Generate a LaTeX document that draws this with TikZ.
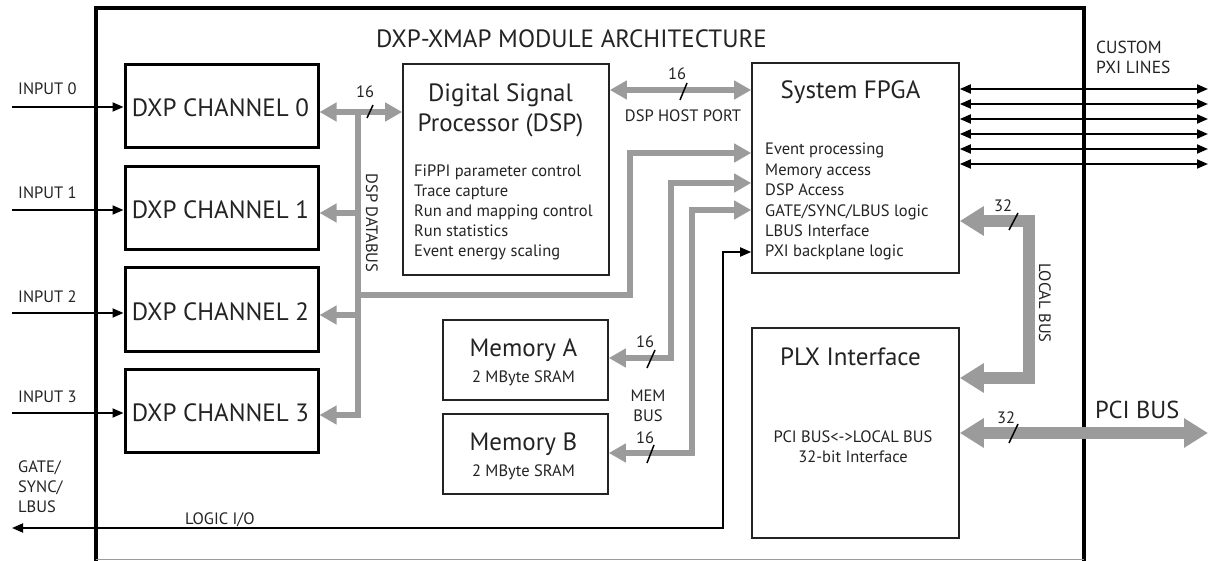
\documentclass[tikz,border=0pt]{standalone}
\usepackage{fontspec}
\setmainfont{PT Sans}
\usetikzlibrary{arrows.meta}
\definecolor{busgray}{RGB}{155,155,155}
\definecolor{ink}{RGB}{35,35,35}
\newcommand\fsz[2]{\fontsize{#1}{#2}\selectfont}
\tikzset{
  gtip/.tip={Triangle[length=17pt,width=18pt]},
  ttip/.tip={Triangle[length=24pt,width=28pt]},
  btip/.tip={Triangle[length=11pt,width=9pt]},
  chbox/.style={draw=black, line width=3pt, minimum width=193pt, minimum height=83pt, inner sep=0pt},
  unitbox/.style={draw=ink, line width=1.6pt, inner sep=0pt},
  txt/.style={inner sep=0pt, text=ink},
  big/.style={txt, font=\fsz{25}{25}},
  small/.style={txt, font=\fsz{16.5}{16.5}},
  gbus/.style={draw=busgray, line width=5.5pt, line join=miter},
  tbus/.style={draw=busgray, line width=12pt, line join=miter},
  bline/.style={draw=black, line width=1.8pt, line join=miter},
  slashmark/.style={draw=black, line width=1.5pt},
}
\begin{document}
\begin{tikzpicture}[x=1pt,y=-1pt]
\useasboundingbox (0,0) rectangle (1210,561);
% outer frame
\draw[line width=3.5pt] (96,561) -- (96,8) -- (1084,8) -- (1084,561);
\draw[busgray, line width=1.2pt] (96,559.5) -- (1084,559.5);

% boxes
\node[chbox] (ch0) at (221.5,106.5) {};
\node[chbox] (ch1) at (221.5,208) {};
\node[chbox] (ch2) at (221.5,309.5) {};
\node[chbox] (ch3) at (221.5,411) {};
\node[unitbox, minimum width=206pt, minimum height=211pt] (dsp) at (506,169.5) {};
\node[unitbox, minimum width=207pt, minimum height=210pt] (fpga) at (855.5,168) {};
\node[unitbox, minimum width=165pt, minimum height=80pt] (memA) at (525.5,360) {};
\node[unitbox, minimum width=165pt, minimum height=80pt] (memB) at (525.5,454) {};
\node[unitbox, minimum width=207pt, minimum height=210pt] (plx) at (855.5,433) {};

% coordinates
\coordinate (in0) at (12,107);
\coordinate (in1) at (12,210);
\coordinate (in2) at (12,313);
\coordinate (in3) at (12,413);
\coordinate (db0) at (358,112);
\coordinate (db1) at (358,213);
\coordinate (db2) at (358,315);
\coordinate (db3) at (358,415);
\coordinate (db4) at (358,295);
\coordinate (ev) at (630,153);
\coordinate (ma) at (671,183);
\coordinate (maL) at (671,358);
\coordinate (mb) at (692,210);
\coordinate (mbL) at (692,453);
\coordinate (hp) at (0,90);
\coordinate (lg) at (723,528);
\coordinate (lgE) at (12,528);
\coordinate (px) at (723,252);
\coordinate (lb1) at (1029,221);
\coordinate (lb2) at (1029,378);
\coordinate (pci) at (1208,433);

% inputs
\foreach \i in {0,1,2,3} {\draw[bline,-btip] (in\i) -- (in\i -| ch\i.west);}

% DSP databus
\draw[gbus,gtip-gtip] (db0 -| ch0.east) -- (db0 -| dsp.west);
\draw[gbus,-gtip] (db0) -- (db3) -- (db3 -| ch3.east);
\draw[gbus,-gtip] (db1) -- (db1 -| ch1.east);
\draw[gbus,-gtip] (db2) -- (db2 -| ch2.east);
\draw[gbus,-gtip] (db4) -| (ev) -- (ev -| fpga.west);

% memory buses
\draw[gbus,gtip-gtip] (ma -| fpga.west) -- (ma) -- (maL) -- (maL -| memA.east);
\draw[gbus,gtip-gtip] (mb -| fpga.west) -- (mb) -- (mbL) -- (mbL -| memB.east);

% host port
\draw[gbus,gtip-gtip] (hp -| dsp.east) -- (hp -| fpga.west);

% logic I/O
\draw[bline,btip-btip] (lgE) -- (lg) -- (px) -- (px -| fpga.west);

% local bus and PCI
\draw[tbus,ttip-ttip] (lb1 -| fpga.east) -- (lb1) -- (lb2) -- (lb2 -| plx.east);
\draw[tbus,ttip-ttip] (pci -| plx.east) -- (pci);

% custom PXI lines
\foreach \y [count=\i] in {89,104,119,134,149,164} {
  \coordinate (pxi\i) at (1208,\y);
  \draw[bline,btip-btip] (pxi\i -| fpga.east) -- (pxi\i);
}

% bus width slashes
\draw[slashmark] (367,118) -- (373,105);
\draw[slashmark] (680,100) -- (687,83);
\draw[slashmark] (647,368) -- (655,350);
\draw[slashmark] (647,463) -- (654,445);
\draw[slashmark] (1009,230) -- (1018,213);
\draw[slashmark] (1009,443) -- (1018,424);

% texts
\node[big, anchor=base] (title) at (571.5,48) {DXP-XMAP MODULE ARCHITECTURE};
\node[big, anchor=base] (ch0t) at (220.5,117) {DXP CHANNEL 0};
\node[big, anchor=base] (ch1t) at (220.5,218.5) {DXP CHANNEL 1};
\node[big, anchor=base] (ch2t) at (220.5,320) {DXP CHANNEL 2};
\node[big, anchor=base] (ch3t) at (220.5,421.5) {DXP CHANNEL 3};
\node[small, anchor=base west] (i0) at (18,95) {INPUT 0};
\node[small, anchor=base west] (i1) at (18,199) {INPUT 1};
\node[small, anchor=base west] (i2) at (18,302) {INPUT 2};
\node[small, anchor=base west] (i3) at (18,402) {INPUT 3};
\node[small, anchor=base west] (g1) at (18,472) {GATE/};
\node[small, anchor=base west] (g2) at (18,492) {SYNC/};
\node[small, anchor=base west] (g3) at (18,512) {LBUS};
\node[small, anchor=base west] (lio) at (185,524) {LOGIC I/O};
\node[big, anchor=base] (dspt1) at (500.5,102) {Digital Signal};
\node[big, anchor=base] (dspt2) at (500.5,132) {Processor (DSP)};
\foreach \t [count=\i] in {FiPPI parameter control,Trace capture,Run and mapping control,Run statistics,Event energy scaling} {
  \node[small, anchor=base west] (dl\i) at (414,157+20*\i) {\t};
}
\node[big, anchor=base] (fpgat) at (850.5,99) {System FPGA};
\foreach \t [count=\i] in {Event processing,Memory access,DSP Access,GATE/SYNC/LBUS logic,LBUS Interface,PXI backplane logic} {
  \node[small, anchor=base west] (fl\i) at (765,134.6+20.4*\i) {\t};
}
\node[big, anchor=base] (plxt) at (850.5,365) {PLX Interface};
\node[small, anchor=base] (plx1) at (853,442) {PCI BUS<->LOCAL BUS};
\node[small, anchor=base] (plx2) at (853,462) {32-bit Interface};
\node[big, anchor=base] (mat) at (523.5,356) {Memory A};
\node[small, anchor=base] (mas) at (523.5,382) {2 MByte SRAM};
\node[big, anchor=base] (mbt) at (523.5,450) {Memory B};
\node[small, anchor=base] (mbs) at (523.5,476) {2 MByte SRAM};
\node[small, anchor=base] (hpt) at (683,122) {DSP HOST PORT};
\node[small, anchor=base] (mem1) at (648,401) {MEM};
\node[small, anchor=base] (mem2) at (648,421) {BUS};
\node[small, anchor=base west, font=\fsz{17.5}{17.5}] (cu1) at (1096,54) {CUSTOM};
\node[small, anchor=base west, font=\fsz{17.5}{17.5}] (cu2) at (1096,74) {PXI LINES};
\node[big, anchor=base west, font=\fsz{24.5}{24.5}] (pcit) at (1095,418) {PCI BUS};
\node[small, rotate=-90] (dbt) at (372,223) {DSP DATABUS};
\node[small, rotate=-90] (lbt) at (1045,303) {LOCAL BUS};
\node[small, anchor=base] (n1) at (365,98) {16};
\node[small, anchor=base] (n2) at (677,80) {16};
\node[small, anchor=base] (n3) at (645,348) {16};
\node[small, anchor=base] (n4) at (645,443) {16};
\node[small, anchor=base] (n5) at (1003,212) {32};
\node[small, anchor=base] (n6) at (1006,423) {32};
\end{tikzpicture}
\end{document}
